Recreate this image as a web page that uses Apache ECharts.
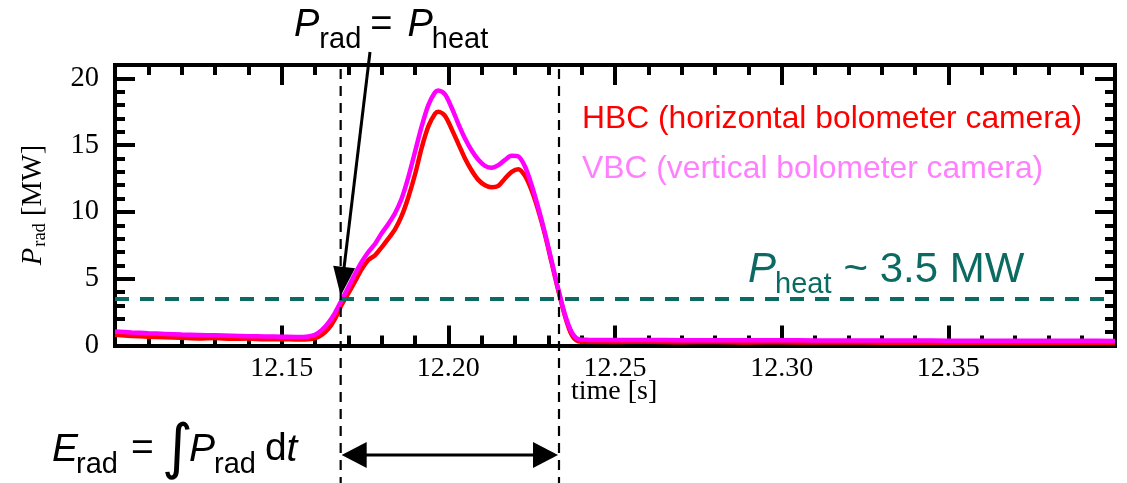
<!DOCTYPE html>
<html>
<head>
<meta charset="utf-8">
<script src="https://cdn.jsdelivr.net/npm/echarts@6/dist/echarts.min.js"></script>
<style>
  html, body { margin: 0; padding: 0; background: #ffffff; }
  #chart { width: 1127px; height: 483px; }
</style>
</head>
<body>
<div id="chart"></div>
<script>
// Radiated power during the disruption, measured by two bolometer cameras
const timeS = [
  12.100, 12.105, 12.110, 12.115, 12.120, 12.125, 12.130, 12.135, 12.140, 12.145,
  12.150, 12.155, 12.158, 12.160, 12.162, 12.164, 12.166, 12.168, 12.170, 12.172,
  12.174, 12.176, 12.178, 12.180, 12.182, 12.184, 12.186, 12.188, 12.190, 12.192,
  12.194, 12.196, 12.197, 12.199, 12.201, 12.203, 12.205, 12.207, 12.209, 12.211,
  12.213, 12.215, 12.217, 12.219, 12.221, 12.223, 12.225, 12.227, 12.229, 12.231,
  12.233, 12.235, 12.237, 12.239, 12.242, 12.250, 12.260, 12.270, 12.280, 12.290,
  12.300, 12.310, 12.320, 12.330, 12.340, 12.350, 12.360, 12.370, 12.380, 12.390,
  12.400
];
const hbcMW = [
  0.80, 0.72, 0.66, 0.62, 0.58, 0.53, 0.56, 0.50, 0.52, 0.47,
  0.48, 0.44, 0.46, 0.55, 0.80, 1.25, 2.00, 3.05, 3.90, 4.80,
  5.70, 6.40, 6.75, 7.35, 8.00, 8.70, 9.70, 11.10, 12.80, 14.80,
  16.40, 17.35, 17.50, 17.20, 16.20, 15.10, 14.00, 13.10, 12.40, 12.00,
  11.85, 11.95, 12.50, 13.00, 13.20, 12.70, 11.60, 10.10, 8.30, 6.20,
  4.10, 2.20, 0.80, 0.32, 0.28, 0.27, 0.28, 0.25, 0.26, 0.23,
  0.24, 0.22, 0.23, 0.21, 0.22, 0.20, 0.21, 0.19, 0.20, 0.18,
  0.19
];
const vbcMW = [
  1.05, 0.98, 0.92, 0.87, 0.82, 0.79, 0.76, 0.73, 0.70, 0.68,
  0.66, 0.64, 0.68, 0.80, 1.15, 1.70, 2.45, 3.40, 4.35, 5.35,
  6.25, 7.00, 7.60, 8.40, 9.10, 9.90, 11.00, 12.60, 14.50, 16.40,
  18.00, 18.95, 19.10, 18.80, 17.80, 16.60, 15.50, 14.60, 13.90, 13.45,
  13.30, 13.50, 13.90, 14.20, 14.15, 13.40, 12.00, 10.30, 8.40, 6.30,
  4.20, 2.30, 1.00, 0.48, 0.42, 0.41, 0.41, 0.40, 0.40, 0.39,
  0.39, 0.38, 0.38, 0.37, 0.37, 0.36, 0.36, 0.35, 0.35, 0.35,
  0.34
];
const seriesNames = ['HBC (horizontal bolometer camera)', 'VBC (vertical bolometer camera)'];
const markerTimesS = [12.1677, 12.2332];   // P_rad = P_heat crossings
const pHeatMW = 3.5;
const xRange = [12.10, 12.40];
const yRange = [0, 21];

const RED = '#ff0000';
const MAGENTA = '#ff00ff';
const VBC_TEXT = '#ff80ff';
const TEAL = '#0b6b62';
const SANS = '"Liberation Sans", Arial, sans-serif';
const SERIF = '"Liberation Serif", "Times New Roman", serif';

const chart = echarts.init(document.getElementById('chart'), null, { renderer: 'canvas' });

const frame = { color: '#000', width: 4, cap: 'square' };
const tickStyle = { color: '#000', width: 4 };

function xAxisDef(position, showLabels) {
  return {
    type: 'value', position: position,
    min: xRange[0], max: xRange[1], interval: 0.05,
    axisLine: { show: true, onZero: false, lineStyle: frame },
    axisTick: { show: true, inside: true, length: 20, lineStyle: tickStyle },
    minorTick: { show: true, splitNumber: 5, length: 10, lineStyle: tickStyle },
    splitLine: { show: false }, minorSplitLine: { show: false },
    axisLabel: {
      show: showLabels, showMinLabel: false, showMaxLabel: false,
      margin: 9, color: '#000', fontFamily: SERIF, fontSize: 28,
      formatter: v => v.toFixed(2)
    }
  };
}
function yAxisDef(position, step, tickLen, showLine, showLabels) {
  return {
    type: 'value', position: position,
    min: yRange[0], max: yRange[1], interval: step,
    axisLine: { show: showLine, onZero: false, lineStyle: frame },
    axisTick: { show: true, inside: true, length: tickLen, lineStyle: tickStyle },
    splitLine: { show: false },
    axisLabel: {
      show: showLabels, showMaxLabel: false,
      margin: 16, color: '#000', fontFamily: SERIF, fontSize: 28.5
    }
  };
}

const hbcData = timeS.map((t, i) => [t, hbcMW[i]]);
const vbcData = timeS.map((t, i) => [t, vbcMW[i]]);

chart.setOption({
  animation: false,
  backgroundColor: '#ffffff',
  grid: { left: 115, right: 12, top: 65, bottom: 137.5, containLabel: false, outerBoundsMode: 'none' },
  xAxis: [xAxisDef('bottom', true), xAxisDef('top', false)],
  yAxis: [
    yAxisDef('left', 5, 20, true, true),
    yAxisDef('right', 5, 20, true, false),
    yAxisDef('left', 1, 10, false, false),
    yAxisDef('right', 1, 10, false, false)
  ],
  series: [
    {
      name: seriesNames[0], type: 'line', data: hbcData,
      xAxisIndex: 0, yAxisIndex: 0,
      showSymbol: false, smooth: 0.3,
      lineStyle: { color: RED, width: 4.5 },
      markLine: {
        silent: true, symbol: ['none', 'none'],
        label: { show: false },
        lineStyle: { color: TEAL, width: 4, type: [14, 11] },
        data: [{ yAxis: pHeatMW }]
      }
    },
    {
      name: seriesNames[1], type: 'line', data: vbcData,
      xAxisIndex: 0, yAxisIndex: 0,
      showSymbol: false, smooth: 0.3,
      lineStyle: { color: MAGENTA, width: 4.5 }
    }
  ]
});

// ---- annotations -------------------------------------------------------
const measureCtx = document.createElement('canvas').getContext('2d');
function fontString(p) {
  return (p.italic ? 'italic ' : '') + p.size + 'px ' + p.family;
}
function textWidth(p) {
  measureCtx.font = fontString(p);
  return measureCtx.measureText(p.t).width;
}
// Lays out pieces of text (with sub-scripts) along one baseline
function textRun(x0, baseY, pieces, color) {
  const out = [];
  let cx = x0;
  pieces.forEach(p => {
    cx += p.gap || 0;
    out.push({
      type: 'text', silent: true,
      x: cx, y: baseY + (p.dy || 0) - p.size * 0.34,
      style: {
        text: p.t, fill: color,
        fontSize: p.size, fontFamily: p.family, fontStyle: p.italic ? 'italic' : 'normal',
        align: 'left', verticalAlign: 'middle',
        textAlign: 'left', textVerticalAlign: 'middle'
      }
    });
    cx += textWidth(p);
  });
  return out;
}
function runWidth(pieces) {
  return pieces.reduce((s, p) => s + (p.gap || 0) + textWidth(p), 0);
}
function arrowHead(tipX, tipY, fromX, fromY, len, half) {
  const dx = tipX - fromX, dy = tipY - fromY, L = Math.hypot(dx, dy);
  const ux = dx / L, uy = dy / L;
  const bx = tipX - ux * len, by = tipY - uy * len;
  return {
    type: 'polygon', silent: true,
    shape: { points: [[tipX, tipY], [bx - uy * half, by + ux * half], [bx + uy * half, by - ux * half]] },
    style: { fill: '#000' }
  };
}

const toPx = (t, v) => chart.convertToPixel({ gridIndex: 0 }, [t, v]);
const startPx = toPx(markerTimesS[0], pHeatMW);
const endPx = toPx(markerTimesS[1], pHeatMW);
const H = chart.getHeight();

const graphics = [];

// vertical dashed markers at the two crossings
[startPx[0], endPx[0]].forEach(x => {
  graphics.push({
    type: 'line', silent: true, z: 5,
    shape: { x1: x, y1: 69, x2: x, y2: H },
    style: { stroke: '#000', lineWidth: 2.2, lineDash: [10, 7] }
  });
});

// title: P_rad = P_heat, with an arrow down to the crossing
graphics.push(...textRun(294, 38, [
  { t: 'P', size: 38, family: SANS, italic: true },
  { t: 'rad', size: 29, family: SANS, dy: 12, gap: 0 },
  { t: '=', size: 38, family: SANS, gap: 9 },
  { t: 'P', size: 38, family: SANS, italic: true, gap: 15 },
  { t: 'heat', size: 29, family: SANS, dy: 12, gap: -1 }
], '#000'));
const arrowFrom = [370, 52];
const tip = [startPx[0], startPx[1] - 3];
graphics.push({
  type: 'line', silent: true, z: 6,
  shape: { x1: arrowFrom[0], y1: arrowFrom[1], x2: tip[0] + (arrowFrom[0] - tip[0]) * 0.08, y2: tip[1] + (arrowFrom[1] - tip[1]) * 0.08 },
  style: { stroke: '#000', lineWidth: 3 }
});
graphics.push(Object.assign(arrowHead(tip[0], tip[1], arrowFrom[0], arrowFrom[1], 29, 11), { z: 6 }));

// series labels
graphics.push(...textRun(582, 130, [{ t: seriesNames[0], size: 31.8, family: SANS }], RED));
graphics.push(...textRun(582, 180, [{ t: seriesNames[1], size: 31.8, family: SANS }], VBC_TEXT));

// heating power label
graphics.push(...textRun(748, 285, [
  { t: 'P', size: 42, family: SANS, italic: true },
  { t: 'heat', size: 29, family: SANS, dy: 10, gap: -1 },
  { t: '~ 3.5 MW', size: 42, family: SANS, gap: 12 }
], TEAL));

// axis titles
graphics.push(...textRun(571, 401, [{ t: 'time [s]', size: 28, family: SERIF }], '#000'));
const yTitle = [
  { t: 'P', size: 28.5, family: SERIF, italic: true },
  { t: 'rad', size: 18.5, family: SERIF, dy: 3, gap: 1 },
  { t: ' [MW]', size: 28.5, family: SERIF }
];
graphics.push({
  type: 'group', x: 43, y: 205, rotation: Math.PI / 2, silent: true,
  children: textRun(-runWidth(yTitle) / 2, 0, yTitle, '#000')
});

// radiated energy: integral over the marked window
graphics.push(...textRun(52, 463, [
  { t: 'E', size: 39, family: SANS, italic: true },
  { t: 'rad', size: 29, family: SANS, dy: 12, gap: -2 },
  { t: '=', size: 39, family: SANS, gap: 13 },
  { t: '\u222B', size: 60, family: '"DejaVu Sans", sans-serif', italic: true, dy: 9, gap: 8 },
  { t: 'P', size: 39, family: SANS, italic: true, gap: -4 },
  { t: 'rad', size: 29, family: SANS, dy: 12, gap: -1 },
  { t: 'd', size: 39, family: SANS, gap: 9 },
  { t: 't', size: 39, family: SANS, italic: true, gap: 0 }
], '#000'));
const arrowY = 455;
const ax1 = startPx[0] + 1, ax2 = endPx[0] - 1;
graphics.push({
  type: 'line', silent: true,
  shape: { x1: ax1 + 20, y1: arrowY, x2: ax2 - 20, y2: arrowY },
  style: { stroke: '#000', lineWidth: 3 }
});
graphics.push(arrowHead(ax1, arrowY, ax2, arrowY, 25, 13));
graphics.push(arrowHead(ax2, arrowY, ax1, arrowY, 25, 13));

chart.setOption({ graphic: graphics });
</script>
</body>
</html>
